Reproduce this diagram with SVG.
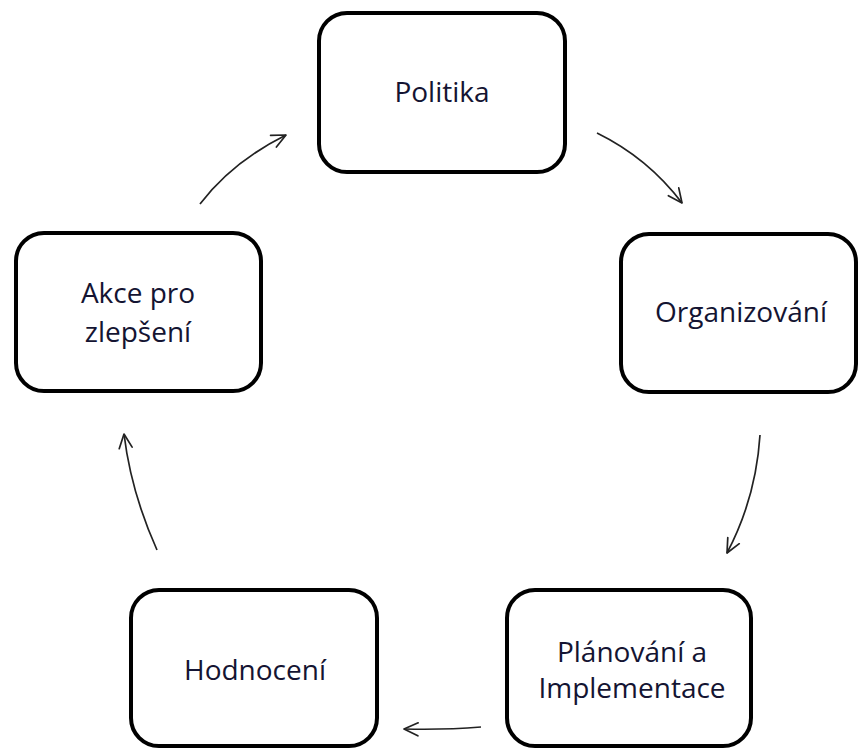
<svg xmlns="http://www.w3.org/2000/svg" width="859" height="749" viewBox="0 0 859 749">
<defs>
<style>
.box{fill:#ffffff;stroke:#000000;stroke-width:4}
.lbl{font-family:"Open Sans","Noto Sans","Liberation Sans",sans-serif;font-size:28px;fill:#141432;text-anchor:middle}
.conn{fill:none;stroke:#222222;stroke-width:1.7;marker-end:url(#arr)}
</style>
<marker id="arr" viewBox="0 0 16 16" refX="15" refY="8" markerWidth="16" markerHeight="16" markerUnits="userSpaceOnUse" orient="auto">
<path d="M1,1.5 L15,8 L1,14.5" fill="none" stroke="#222222" stroke-width="1.7" stroke-linecap="round" stroke-linejoin="round"/>
</marker>
</defs>
<rect width="859" height="749" fill="#ffffff"/>
<g id="connectors">
<path class="conn" d="M200,204 Q232,162 286,135"/>
<path class="conn" d="M597,133 Q648,158 682,203"/>
<path class="conn" d="M760,435 Q756,498 727,553"/>
<path class="conn" d="M481,727 Q445,730 404,729"/>
<path class="conn" d="M157,550 Q131,492 124,434"/>
</g>
<g id="politika">
<rect class="box" x="319" y="13" width="246" height="159" rx="28"/>
<text class="lbl" x="442" y="102">Politika</text>
</g>
<g id="organizovani">
<rect class="box" x="621" y="234" width="235" height="158" rx="28"/>
<text class="lbl" x="741" y="322">Organizování</text>
</g>
<g id="planovani">
<rect class="box" x="507" y="590" width="244" height="156" rx="28"/>
<text class="lbl" x="632" y="662">Plánování a</text>
<text class="lbl" x="632" y="698">Implementace</text>
</g>
<g id="hodnoceni">
<rect class="box" x="131" y="590" width="246" height="156" rx="28"/>
<text class="lbl" x="255" y="680">Hodnocení</text>
</g>
<g id="akce">
<rect class="box" x="16" y="233" width="245" height="158" rx="28"/>
<text class="lbl" x="138" y="303">Akce pro</text>
<text class="lbl" x="138" y="342">zlepšení</text>
</g>
</svg>
